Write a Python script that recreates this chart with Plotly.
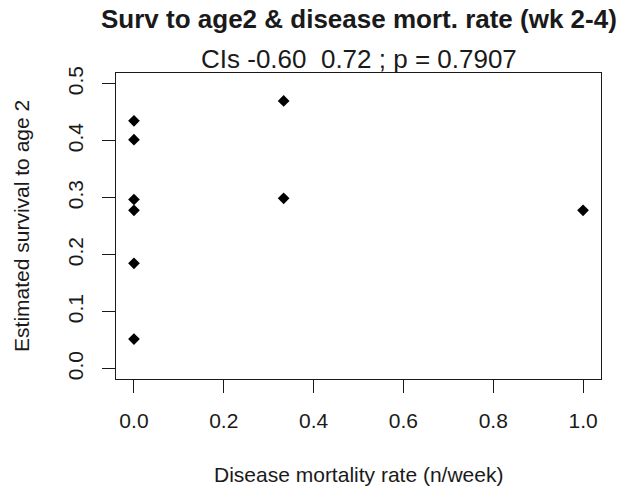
import plotly.graph_objects as go

# Disease mortality rate (n/week) and estimated survival to age 2
mort_rate = [0.0, 0.0, 0.0, 0.0, 0.0, 0.0, 0.3333, 0.3333, 1.0]
survival = [0.435, 0.402, 0.297, 0.278, 0.185, 0.052, 0.470, 0.299, 0.278]

x_ticks = [0.0, 0.2, 0.4, 0.6, 0.8, 1.0]
x_tick_labels = ["0.0", "0.2", "0.4", "0.6", "0.8", "1.0"]
y_ticks = [0.0, 0.1, 0.2, 0.3, 0.4, 0.5]
y_tick_labels = ["0.0", "0.1", "0.2", "0.3", "0.4", "0.5"]

title = "Surv to age2 & disease mort. rate (wk 2-4)"
subtitle = "CIs -0.60  0.72 ; p = 0.7907"
x_title = "Disease mortality rate (n/week)"
y_title = "Estimated survival to age 2"

FONT = "Liberation Sans, Arial, sans-serif"
INK = "#1a1a1a"

fig = go.Figure(
    go.Scatter(
        x=mort_rate,
        y=survival,
        mode="markers",
        marker=dict(symbol="diamond", size=9, color="black"),
        showlegend=False,
        hoverinfo="x+y",
    )
)

axis_common = dict(
    showgrid=False,
    zeroline=False,
    showline=True,
    mirror=True,
    linecolor=INK,
    linewidth=1.3,
    ticks="outside",
    ticklen=13,
    tickwidth=1.3,
    tickcolor=INK,
    tickfont=dict(family=FONT, size=21, color=INK),
)

fig.update_xaxes(
    range=[-0.04, 1.04],
    tickvals=x_ticks,
    ticktext=x_tick_labels,
    ticklabelstandoff=10,
    **axis_common,
)
fig.update_yaxes(
    range=[-0.018, 0.519],
    tickvals=y_ticks,
    ticktext=y_tick_labels,
    tickangle=-90,
    ticklabelstandoff=10,
    **axis_common,
)

annotations = [
    dict(text="<b>" + title + "</b>", x=0.5, y=1.177, font=dict(size=26)),
    dict(text=subtitle, x=0.5, y=1.047, font=dict(size=26)),
    dict(text=x_title, x=0.5, y=-0.312, font=dict(size=21)),
    dict(text=y_title, x=-0.196, y=0.5, textangle=-90, font=dict(size=21)),
]
for a in annotations:
    a.update(xref="paper", yref="paper", xanchor="center", yanchor="middle",
             showarrow=False)
    a["font"].update(family=FONT, color=INK)

fig.update_layout(
    width=627,
    height=489,
    margin=dict(l=116, r=26, t=73, b=110),
    paper_bgcolor="white",
    plot_bgcolor="white",
    annotations=annotations,
)

fig.write_html("out.html")
